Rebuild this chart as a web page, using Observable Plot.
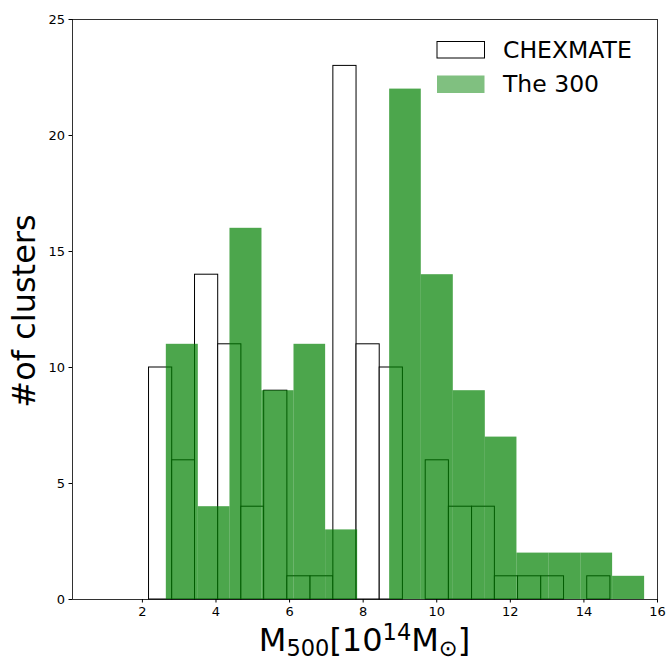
<!DOCTYPE html>
<html>
<head>
<meta charset="utf-8">
<script src="https://cdn.jsdelivr.net/npm/d3@7"></script>
<script src="https://cdn.jsdelivr.net/npm/@observablehq/plot@0.6"></script>
<style>
  html, body { margin: 0; padding: 0; background: #fff; }
</style>
</head>
<body>
<div id="chart"></div>
<script>
// CHEXMATE histogram: bin edges and counts
const chexEdges = [2.18, 2.81, 3.43, 4.06, 4.69, 5.31, 5.94, 6.57, 7.19, 7.82, 8.45,
                   9.08, 9.70, 10.33, 10.96, 11.58, 12.21, 12.84, 13.46, 14.09, 14.72];
const chexCounts = [10, 6, 14, 11, 4, 9, 1, 1, 23, 11, 10, 0, 6, 4, 4, 1, 1, 1, 0, 1];

// The 300 histogram: bin edges and counts
const t300Edges = [2.65, 3.52, 4.38, 5.25, 6.12, 6.98, 7.85, 8.72, 9.58, 10.45,
                   11.32, 12.18, 13.05, 13.92, 14.78, 15.65];
const t300Counts = [11, 4, 16, 9, 11, 3, 0, 22, 14, 9, 7, 2, 2, 2, 1];

const xTicks = [2, 4, 6, 8, 10, 12, 14, 16];
const yTicks = [0, 5, 10, 15, 20, 25];
const seriesNames = ["CHEXMATE", "The 300"];

const chex = chexCounts.map((c, i) => ({x1: chexEdges[i], x2: chexEdges[i + 1], y: c}));
const t300 = t300Counts.map((c, i) => ({x1: t300Edges[i], x2: t300Edges[i + 1], y: c}));

const chart = Plot.plot({
  width: 666,
  height: 660,
  marginLeft: 72,
  marginRight: 9,
  marginTop: 19,
  marginBottom: 61,
  style: {fontFamily: "DejaVu Sans", fontSize: "13px", color: "black", background: "white"},
  x: {domain: [0.1, 16]},
  y: {domain: [0, 25]},
  marks: [
    Plot.rect(chex, {x1: "x1", x2: "x2", y1: 0, y2: "y", fill: "white", stroke: "black", strokeWidth: 1, inset: 0}),
    Plot.rect(t300, {x1: "x1", x2: "x2", y1: 0, y2: "y", fill: "#008000", fillOpacity: 0.7, inset: 0}),
    Plot.frame({stroke: "black", strokeWidth: 0.8}),
    Plot.axisX({ticks: xTicks, tickSize: 3.5, tickPadding: 4, label: null, tickFormat: d => String(d)}),
    Plot.axisY({ticks: yTicks, tickSize: 3.5, tickPadding: 4, label: null, tickFormat: d => String(d)})
  ]
});

document.getElementById("chart").appendChild(chart);

const svg = d3.select(chart);
const font = "DejaVu Sans";

// tick label size
svg.selectAll("g[aria-label$='tick label']").attr("font-size", 13);

// Y-axis label
svg.append("text")
  .attr("transform", "translate(35,311) rotate(-90)")
  .attr("text-anchor", "middle")
  .attr("font-family", font)
  .attr("font-size", 32)
  .attr("fill", "black")
  .text("#of clusters");

// X-axis label with sub/superscripts
const xl = svg.append("text")
  .attr("x", 364.5)
  .attr("y", 651)
  .attr("text-anchor", "middle")
  .attr("font-family", font)
  .attr("font-size", 32)
  .attr("fill", "black");
xl.append("tspan").text("M");
xl.append("tspan").attr("font-size", 22.5).attr("dy", 5).text("500");
xl.append("tspan").attr("dy", -5).text("[10");
xl.append("tspan").attr("font-size", 22.5).attr("dy", -11).text("14");
xl.append("tspan").attr("dy", 11).text("M");
xl.append("tspan").attr("font-size", 22.5).attr("dy", 5).text("\u2299");
xl.append("tspan").attr("dy", -5).text("]");

// Legend
const lg = svg.append("g").attr("text-anchor", "start");
lg.append("rect").attr("x", 437).attr("y", 41.5).attr("width", 47.5).attr("height", 16.5)
  .attr("fill", "white").attr("stroke", "black").attr("stroke-width", 1);
lg.append("rect").attr("x", 437).attr("y", 75.5).attr("width", 47.5).attr("height", 17.5)
  .attr("fill", "#80c080");
lg.append("text").attr("x", 503).attr("y", 57.5).attr("font-family", font).attr("font-size", 23.5)
  .attr("text-anchor", "start").attr("fill", "black").text(seriesNames[0]);
lg.append("text").attr("x", 503).attr("y", 92).attr("font-family", font).attr("font-size", 23.5)
  .attr("text-anchor", "start").attr("fill", "black").text(seriesNames[1]);
</script>
</body>
</html>
